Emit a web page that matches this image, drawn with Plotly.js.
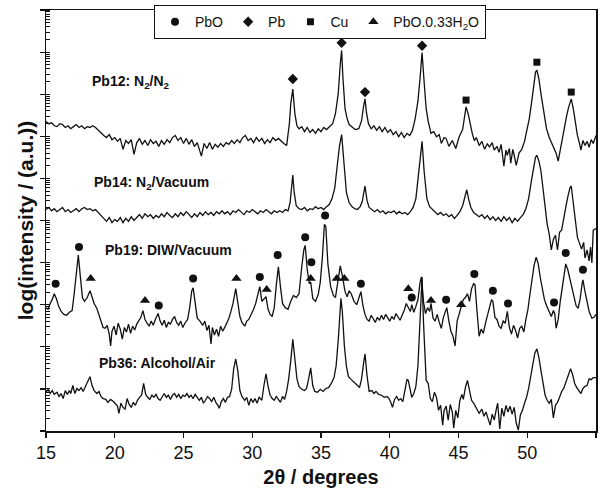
<!DOCTYPE html>
<html>
<head>
<meta charset="utf-8">
<script src="https://cdn.plot.ly/plotly-3.0.1.min.js"></script>
<style>html,body{margin:0;padding:0;background:#fff;}#chart{width:606px;height:493px;}</style>
</head>
<body>
<div id="chart"></div>
<script>
// ---- data: [2theta (deg), log(intensity) (a.u.)] ----
const pb12 = [[15.0,7.35],[15.2,7.30],[15.4,7.32],[15.6,7.25],[15.8,7.23],[16.0,7.30],[16.2,7.28],[16.4,7.21],[16.6,7.25],[16.8,7.18],
[17.0,7.23],[17.2,7.28],[17.4,7.21],[17.6,7.25],[17.8,7.18],[18.0,7.23],[18.2,7.21],[18.4,7.25],[18.6,7.21],[18.8,7.14],
[19.0,7.07],[19.2,7.02],[19.4,6.97],[19.6,7.04],[19.8,6.92],[20.0,6.97],[20.2,6.88],[20.4,6.95],[20.6,6.69],[20.8,6.90],
[21.0,6.83],[21.2,6.92],[21.4,6.57],[21.6,6.85],[21.8,6.95],[22.0,6.81],[22.2,6.90],[22.4,6.78],[22.6,6.92],[22.8,6.83],
[23.0,6.88],[23.2,6.76],[23.4,6.90],[23.6,6.81],[23.8,6.92],[24.0,6.85],[24.2,6.97],[24.4,7.02],[24.6,6.90],[24.8,6.97],
[25.0,6.83],[25.2,6.95],[25.4,6.81],[25.6,6.92],[25.8,6.76],[26.0,6.85],[26.3,6.53],[26.5,6.83],[26.7,6.71],[26.9,6.85],
[27.1,6.69],[27.3,6.81],[27.5,6.74],[27.7,6.83],[27.9,6.76],[28.1,6.85],[28.3,6.81],[28.5,6.90],[28.7,6.83],[28.9,6.92],
[29.1,6.85],[29.3,6.97],[29.5,7.02],[29.7,6.90],[29.9,6.95],[30.1,6.85],[30.3,6.97],[30.5,6.88],[30.7,6.95],[30.9,6.83],
[31.1,6.92],[31.3,6.85],[31.5,6.97],[31.7,6.90],[31.9,6.95],[32.1,6.88],[32.3,6.83],[32.5,6.78],[32.7,7.30],[32.8,7.77],
[32.95,8.12],[33.1,7.54],[33.25,7.25],[33.4,7.18],[33.6,7.23],[33.8,7.11],[34.0,7.21],[34.2,7.09],[34.4,7.16],[34.6,7.07],
[34.8,7.18],[35.0,7.11],[35.2,7.21],[35.4,7.16],[35.6,7.23],[35.85,7.30],[36.05,7.54],[36.25,8.00],[36.4,8.71],[36.5,9.04],
[36.6,8.36],[36.75,7.65],[36.9,7.42],[37.05,7.28],[37.3,7.21],[37.5,7.16],[37.75,7.18],[37.95,7.37],[38.1,7.72],[38.2,7.89],
[38.3,7.58],[38.45,7.30],[38.65,7.18],[38.85,7.25],[39.05,7.14],[39.25,7.23],[39.45,7.11],[39.65,7.21],[39.85,7.09],[40.05,7.16],
[40.25,7.04],[40.45,7.11],[40.65,6.99],[40.85,7.09],[41.05,6.97],[41.25,7.07],[41.45,7.02],[41.65,7.14],[41.85,7.42],[42.05,7.84],
[42.2,8.36],[42.35,8.99],[42.5,8.29],[42.65,7.65],[42.8,7.35],[43.0,7.07],[43.2,7.11],[43.4,6.99],[43.6,7.04],[43.75,6.83],
[43.95,6.97],[44.1,6.95],[44.3,6.76],[44.55,6.90],[44.8,6.71],[45.05,6.99],[45.3,7.16],[45.45,7.49],[45.55,7.70],[45.7,7.54],
[45.85,7.28],[46.0,7.07],[46.15,6.90],[46.3,6.97],[46.5,6.78],[46.7,6.88],[46.9,6.69],[47.1,6.83],[47.25,6.74],[47.45,6.85],
[47.6,6.67],[47.8,6.76],[47.95,6.62],[48.1,6.81],[48.3,6.29],[48.45,6.67],[48.55,6.55],[48.7,6.71],[48.8,6.36],[48.95,6.69],
[49.05,6.55],[49.2,6.31],[49.4,6.60],[49.6,6.69],[49.8,6.88],[50.0,7.16],[50.15,7.42],[50.3,7.77],[50.45,8.12],[50.6,8.52],
[50.7,8.57],[50.85,8.36],[51.0,8.00],[51.2,7.54],[51.4,7.18],[51.6,6.97],[51.8,6.83],[51.95,6.71],[52.1,6.60],[52.25,6.41],
[52.4,6.69],[52.55,6.92],[52.7,7.18],[52.85,7.46],[53.0,7.68],[53.2,7.89],[53.35,7.65],[53.5,7.30],[53.65,7.02],[53.8,6.83],
[53.9,6.67],[54.05,6.90],[54.2,6.78],[54.35,6.88],[54.5,6.74],[54.65,6.92],[54.8,6.83],[55.0,7.02]];

const pb14 = [[15.0,5.26],[15.2,5.31],[15.4,5.23],[15.6,5.28],[15.8,5.21],[16.0,5.26],[16.2,5.31],[16.4,5.21],[16.6,5.26],[16.8,5.19],
[17.0,5.23],[17.2,5.28],[17.4,5.21],[17.6,5.28],[17.8,5.31],[18.0,5.26],[18.2,5.28],[18.4,5.23],[18.6,5.26],[18.8,5.19],
[19.0,5.12],[19.2,5.05],[19.4,4.98],[19.6,5.07],[19.8,4.95],[20.0,5.02],[20.2,4.98],[20.4,5.07],[20.6,4.95],[20.8,5.05],
[21.0,4.98],[21.2,5.09],[21.4,5.00],[21.6,5.07],[21.8,5.14],[22.0,5.05],[22.2,5.16],[22.4,5.09],[22.6,5.14],[22.8,5.05],
[23.0,5.12],[23.2,5.07],[23.4,5.16],[23.6,5.09],[23.8,5.19],[24.0,5.12],[24.2,5.07],[24.4,5.16],[24.6,5.09],[24.8,5.19],
[25.0,5.12],[25.2,5.21],[25.4,5.14],[25.6,5.07],[25.8,5.16],[26.0,5.09],[26.2,5.19],[26.4,5.12],[26.6,5.21],[26.8,5.14],
[27.0,5.19],[27.2,5.12],[27.4,5.21],[27.6,5.16],[27.8,5.23],[28.0,5.16],[28.2,5.21],[28.4,5.14],[28.6,5.23],[28.8,5.19],
[29.0,5.26],[29.2,5.19],[29.4,5.14],[29.6,5.23],[29.8,5.19],[30.0,5.26],[30.2,5.21],[30.4,5.16],[30.6,5.23],[30.8,5.19],
[31.0,5.26],[31.2,5.21],[31.4,5.16],[31.6,5.23],[31.8,5.19],[32.0,5.23],[32.2,5.19],[32.4,5.26],[32.6,5.23],[32.75,5.42],
[32.85,5.77],[32.95,6.08],[33.05,5.66],[33.2,5.35],[33.4,5.28],[33.6,5.26],[33.8,5.31],[34.0,5.23],[34.2,5.28],[34.4,5.26],
[34.6,5.33],[34.8,5.28],[35.0,5.31],[35.2,5.26],[35.4,5.33],[35.6,5.38],[35.8,5.52],[36.0,5.77],[36.2,6.36],[36.35,6.78],
[36.5,7.04],[36.65,6.36],[36.85,5.66],[37.05,5.42],[37.25,5.33],[37.45,5.28],[37.65,5.26],[37.85,5.33],[38.0,5.45],[38.2,5.82],
[38.35,5.47],[38.5,5.31],[38.7,5.26],[38.9,5.21],[39.1,5.26],[39.3,5.19],[39.5,5.23],[39.7,5.16],[39.9,5.21],[40.1,5.19],
[40.3,5.23],[40.5,5.16],[40.7,5.21],[40.9,5.16],[41.1,5.19],[41.3,5.14],[41.5,5.21],[41.7,5.31],[41.9,5.52],[42.1,6.08],
[42.25,6.60],[42.35,6.88],[42.5,6.17],[42.7,5.52],[42.9,5.33],[43.1,5.26],[43.3,5.19],[43.5,5.14],[43.7,5.19],[43.9,5.12],
[44.1,5.16],[44.3,5.09],[44.5,5.14],[44.7,5.05],[44.9,5.12],[45.1,5.21],[45.3,5.35],[45.45,5.56],[45.6,5.73],[45.75,5.49],
[45.9,5.31],[46.1,5.19],[46.3,5.14],[46.5,5.09],[46.7,5.14],[46.9,5.05],[47.1,5.12],[47.3,5.02],[47.5,5.09],[47.7,5.00],
[47.9,5.07],[48.1,4.98],[48.3,5.09],[48.5,5.00],[48.7,5.07],[48.9,4.95],[49.1,5.05],[49.3,4.98],[49.5,5.07],[49.7,5.14],
[49.9,5.28],[50.1,5.52],[50.3,5.94],[50.45,6.24],[50.6,6.50],[50.7,6.55],[50.85,6.41],[51.0,6.17],[51.15,5.77],[51.3,5.31],
[51.45,4.91],[51.6,4.67],[51.75,4.30],[51.9,4.55],[52.05,4.65],[52.2,4.30],[52.35,4.72],[52.5,4.77],[52.65,5.09],[52.8,5.31],
[52.95,5.56],[53.1,5.77],[53.2,5.82],[53.35,5.47],[53.5,5.00],[53.65,4.60],[53.8,4.44],[53.95,4.32],[54.1,4.48],[54.2,4.11],
[54.35,4.30],[54.5,4.04],[54.6,4.37],[54.7,3.99],[54.8,4.77],[55.0,4.81]];

const pb19 = [[15.0,2.93],[15.15,2.89],[15.3,3.03],[15.45,3.12],[15.6,3.26],[15.75,3.15],[15.9,2.98],[16.1,2.84],[16.3,2.77],[16.5,2.75],
[16.7,2.82],[16.9,2.86],[17.05,3.26],[17.2,3.78],[17.35,4.18],[17.5,3.66],[17.65,3.17],[17.8,3.08],[18.0,3.17],[18.2,3.33],
[18.35,3.19],[18.5,3.03],[18.7,2.91],[18.85,2.77],[19.0,2.58],[19.15,2.46],[19.3,2.44],[19.45,2.51],[19.6,2.30],[19.7,2.02],
[19.8,2.37],[19.95,2.49],[20.1,2.28],[20.25,2.56],[20.4,2.42],[20.55,2.18],[20.7,2.46],[20.85,2.35],[21.0,2.54],[21.15,2.32],
[21.3,2.49],[21.45,2.40],[21.6,2.54],[21.75,2.61],[21.9,2.70],[22.05,2.86],[22.2,2.65],[22.35,2.56],[22.5,2.49],[22.65,2.61],
[22.8,2.51],[22.95,2.65],[23.15,2.79],[23.3,2.61],[23.45,2.51],[23.6,2.63],[23.75,2.46],[23.9,2.58],[24.05,2.54],[24.2,2.65],
[24.35,2.72],[24.5,2.58],[24.65,2.51],[24.8,2.61],[24.95,2.46],[25.1,2.56],[25.3,2.65],[25.45,2.93],[25.6,3.33],[25.7,3.40],
[25.85,2.96],[26.0,2.68],[26.2,2.61],[26.4,2.51],[26.55,2.61],[26.7,2.39],[26.85,2.51],[27.0,2.07],[27.1,2.46],[27.25,2.28],
[27.4,2.42],[27.55,2.25],[27.7,2.49],[27.85,2.37],[28.0,2.46],[28.15,2.56],[28.3,2.68],[28.45,2.84],[28.6,3.03],[28.8,3.38],
[28.95,2.98],[29.1,2.72],[29.25,2.58],[29.45,2.49],[29.6,2.61],[29.75,2.65],[29.95,2.79],[30.1,2.89],[30.25,3.03],[30.4,3.22],
[30.55,3.43],[30.7,3.08],[30.85,3.15],[31.0,3.19],[31.15,2.89],[31.3,2.77],[31.45,2.72],[31.6,2.93],[31.75,3.47],[31.9,3.90],
[32.05,3.43],[32.2,3.03],[32.4,2.93],[32.6,2.89],[32.8,3.08],[33.0,3.22],[33.2,3.17],[33.4,3.26],[33.6,3.90],[33.75,4.30],
[33.85,4.41],[34.0,3.83],[34.15,3.50],[34.25,3.54],[34.4,3.15],[34.6,3.08],[34.8,3.24],[34.95,3.54],[35.1,4.13],[35.25,4.91],
[35.35,4.86],[35.5,3.97],[35.7,3.43],[35.9,3.22],[36.05,3.17],[36.2,3.47],[36.4,3.92],[36.55,3.69],[36.75,3.31],[36.9,3.19],
[37.05,3.33],[37.2,3.26],[37.4,3.08],[37.6,3.00],[37.75,3.15],[37.9,3.31],[38.05,2.98],[38.2,2.77],[38.35,2.65],[38.5,2.61],
[38.65,2.75],[38.8,2.68],[38.95,2.58],[39.1,2.70],[39.25,2.63],[39.4,2.75],[39.55,2.65],[39.7,2.77],[39.85,2.70],[40.0,2.61],
[40.15,2.72],[40.3,2.65],[40.45,2.79],[40.6,2.70],[40.75,2.63],[40.9,2.75],[41.05,2.86],[41.2,3.03],[41.35,2.93],[41.5,2.84],
[41.6,3.00],[41.75,2.82],[41.9,2.96],[42.05,3.12],[42.2,3.52],[42.3,3.66],[42.45,3.08],[42.6,2.79],[42.75,2.93],[42.9,2.84],
[43.0,3.03],[43.15,2.68],[43.3,2.61],[43.45,2.77],[43.6,2.58],[43.75,2.44],[43.9,2.70],[44.05,2.84],[44.15,2.93],[44.3,2.61],
[44.45,2.37],[44.6,2.25],[44.75,2.02],[44.9,2.61],[45.05,2.79],[45.2,2.96],[45.35,3.12],[45.5,3.17],[45.65,3.26],[45.8,3.08],
[45.95,3.38],[46.1,3.50],[46.2,3.47],[46.35,2.84],[46.5,2.25],[46.65,2.42],[46.8,2.32],[47.0,2.61],[47.2,2.84],[47.4,3.12],
[47.5,3.08],[47.65,2.70],[47.8,2.65],[47.95,2.49],[48.1,2.44],[48.25,2.61],[48.4,2.56],[48.55,2.84],[48.7,2.46],[48.85,2.30],
[49.0,2.51],[49.15,2.39],[49.3,2.21],[49.45,2.44],[49.6,2.49],[49.75,2.35],[49.9,2.65],[50.05,2.89],[50.2,3.26],[50.35,3.59],
[50.5,3.94],[50.65,4.13],[50.8,3.97],[50.95,3.64],[51.1,3.38],[51.25,3.12],[51.4,2.98],[51.6,2.84],[51.75,2.72],[51.9,2.86],
[52.0,2.79],[52.1,2.44],[52.25,2.65],[52.4,3.08],[52.55,3.38],[52.7,3.78],[52.8,3.97],[52.95,3.83],[53.1,3.61],[53.25,3.36],
[53.4,3.15],[53.55,2.98],[53.7,2.91],[53.85,3.15],[54.0,3.52],[54.05,3.59],[54.2,3.31],[54.35,3.05],[54.5,2.84],[54.7,2.68],
[54.85,2.70],[55.0,2.77]];

const pb36 = [[15.0,0.92],[15.15,0.99],[15.3,0.89],[15.45,0.96],[15.6,0.87],[15.8,0.92],[15.95,0.82],[16.1,0.89],[16.25,0.77],[16.4,0.96],
[16.55,0.87],[16.7,0.96],[16.8,0.89],[16.95,1.08],[17.1,0.89],[17.25,1.01],[17.4,0.96],[17.55,1.03],[17.7,0.94],[17.85,1.06],
[18.0,1.15],[18.2,1.29],[18.35,1.08],[18.5,0.96],[18.7,0.89],[18.85,0.94],[19.0,0.82],[19.15,0.77],[19.35,0.75],[19.5,0.68],
[19.7,0.75],[19.9,0.70],[20.05,0.63],[20.2,0.59],[20.3,0.42],[20.45,0.66],[20.6,0.56],[20.75,0.52],[20.9,0.77],[21.05,0.63],
[21.2,0.56],[21.35,0.68],[21.5,0.61],[21.65,0.73],[21.8,0.80],[21.95,0.85],[22.1,1.13],[22.25,0.87],[22.4,0.80],[22.55,0.75],
[22.7,0.85],[22.85,0.80],[23.0,0.87],[23.15,0.77],[23.3,0.73],[23.45,0.82],[23.6,0.89],[23.75,0.80],[23.9,0.85],[24.05,0.75],
[24.2,0.85],[24.35,0.89],[24.5,0.80],[24.65,0.87],[24.8,0.77],[24.95,0.85],[25.1,0.82],[25.25,0.89],[25.4,0.80],[25.55,0.85],
[25.7,0.77],[25.85,0.87],[26.0,0.80],[26.15,0.73],[26.3,0.80],[26.45,0.66],[26.6,0.73],[26.75,0.82],[26.9,0.77],[27.05,0.70],
[27.2,0.80],[27.35,0.68],[27.5,0.61],[27.6,0.54],[27.75,0.70],[27.9,0.77],[28.05,0.68],[28.2,0.80],[28.35,0.82],[28.5,0.99],
[28.65,1.48],[28.8,1.71],[28.95,1.43],[29.1,0.96],[29.25,0.82],[29.45,0.73],[29.6,0.80],[29.75,0.61],[29.9,0.77],[30.05,0.68],
[30.2,0.77],[30.35,0.66],[30.5,0.80],[30.7,0.73],[30.85,1.08],[31.0,1.36],[31.15,1.06],[31.3,0.85],[31.45,0.77],[31.6,0.73],
[31.75,0.82],[31.9,0.75],[32.05,0.68],[32.2,0.82],[32.35,0.75],[32.5,0.94],[32.65,1.24],[32.8,1.67],[32.95,2.18],[33.1,1.71],
[33.25,1.24],[33.4,1.06],[33.6,0.99],[33.8,0.96],[33.95,1.01],[34.1,1.24],[34.25,1.50],[34.4,1.08],[34.55,0.94],[34.75,0.92],
[34.95,0.99],[35.15,0.94],[35.35,1.01],[35.55,1.03],[35.75,1.13],[35.95,1.27],[36.1,1.55],[36.25,2.14],[36.35,2.61],[36.45,3.15],
[36.55,2.84],[36.7,2.02],[36.85,1.53],[37.0,1.29],[37.2,1.22],[37.4,1.17],[37.6,1.10],[37.8,1.03],[37.95,1.24],[38.1,1.62],
[38.2,1.83],[38.35,1.31],[38.5,0.94],[38.7,0.96],[38.85,0.89],[39.0,0.94],[39.2,0.87],[39.4,0.85],[39.6,0.80],[39.8,0.82],
[39.95,0.77],[40.1,0.66],[40.2,0.56],[40.35,0.75],[40.5,0.82],[40.65,0.73],[40.8,0.77],[40.95,0.70],[41.1,0.92],[41.25,1.22],
[41.35,1.20],[41.45,1.03],[41.6,0.80],[41.75,0.89],[41.9,1.06],[42.05,1.55],[42.2,2.61],[42.35,3.66],[42.45,2.61],[42.55,1.67],
[42.65,1.20],[42.8,1.13],[42.95,0.77],[43.1,0.70],[43.25,0.92],[43.4,0.80],[43.55,0.49],[43.7,0.61],[43.85,0.14],[43.95,0.49],
[44.1,0.59],[44.25,0.26],[44.4,0.63],[44.55,0.45],[44.65,0.07],[44.8,0.49],[44.95,0.31],[45.1,0.73],[45.25,0.87],[45.35,0.75],
[45.5,1.03],[45.65,1.20],[45.8,0.96],[45.95,0.73],[46.1,0.66],[46.3,0.52],[46.5,0.42],[46.7,0.52],[46.85,0.35],[47.0,0.45],
[47.15,0.26],[47.3,0.14],[47.45,0.40],[47.6,0.26],[47.75,0.52],[47.85,0.66],[48.0,0.05],[48.15,0.54],[48.3,0.35],[48.45,0.61],
[48.6,0.45],[48.75,0.59],[48.9,0.40],[49.05,0.56],[49.2,0.19],[49.35,0.02],[49.5,0.38],[49.65,0.49],[49.8,0.66],[49.95,0.80],
[50.1,1.01],[50.25,1.31],[50.4,1.62],[50.55,1.85],[50.7,1.95],[50.85,1.74],[51.0,1.43],[51.15,1.13],[51.3,0.85],[51.45,0.73],
[51.6,0.66],[51.75,0.75],[51.9,0.31],[52.05,0.61],[52.2,0.68],[52.35,0.80],[52.5,0.94],[52.65,1.01],[52.8,1.15],[52.95,1.31],
[53.15,1.48],[53.3,1.34],[53.45,1.13],[53.6,1.03],[53.75,0.96],[53.9,0.89],[54.05,1.01],[54.2,1.06],[54.35,1.08],[54.5,1.24],
[54.65,1.22],[54.8,1.27],[55.0,1.27]];

// phase markers [2theta, log(intensity)]
const markPbO = [[15.7,3.50],[17.4,4.37],[23.2,2.98],[25.7,3.62],[30.55,3.66],[31.85,4.18],[33.85,4.60],[34.3,4.01],[35.3,5.12],
[37.9,3.50],[41.6,3.17],[44.1,3.12],[46.15,3.73],[47.5,3.33],[48.6,3.03],[51.95,3.05],[52.8,4.23],[54.05,3.83]];
const markPb = [[32.95,8.36],[36.5,9.22],[38.2,8.05],[42.35,9.15]];
const markCu = [[45.55,7.86],[50.7,8.76],[53.2,8.05]];
const markHyd = [[18.25,3.62],[22.2,3.10],[28.85,3.62],[31.05,3.36],[34.25,3.62],[36.15,3.62],[36.7,3.62],[41.35,3.38],[43.0,3.10],[45.2,3.00]];

const sampleLabels = ['Pb12: N<sub>2</sub>/N<sub>2</sub>', 'Pb14: N<sub>2</sub>/Vacuum', 'Pb19: DIW/Vacuum', 'Pb36: Alcohol/Air'];
const labelX = [18.2, 18.35, 19.15, 18.7];
const labelY = [8.29, 5.89, 4.30, 1.62];
const phaseNames = ['PbO', 'Pb', 'Cu', 'PbO.0.33H<sub>2</sub>O'];
const xTickVals = [15, 20, 25, 30, 35, 40, 45, 50, 55];
const decades = [0,1,2,3,4,5,6,7,8,9,10];

// ---- build ----
const INK = '#111';
const col = (arr, i) => arr.map(p => p[i]);
const lineTrace = d => ({x: col(d,0), y: col(d,1), mode: 'lines', type: 'scatter',
  line: {color: INK, width: 1.3}, showlegend: false, hoverinfo: 'skip'});
const markTrace = (d, name, symbol, size) => ({x: col(d,0), y: col(d,1), mode: 'markers', type: 'scatter',
  name: name, marker: {symbol: symbol, size: size, color: INK, line: {width: 0}}});

const data = [
  lineTrace(pb12), lineTrace(pb14), lineTrace(pb19), lineTrace(pb36),
  markTrace(markPbO, phaseNames[0], 'circle', 8),
  markTrace(markPb, phaseNames[1], 'diamond', 8),
  markTrace(markCu, phaseNames[2], 'square', 7),
  markTrace(markHyd, phaseNames[3], 'triangle-up', 9)
];

const minorVals = [];
decades.forEach(d => { minorVals.push(d); if (d < 10) for (let k = 2; k <= 9; k++) minorVals.push(d + Math.log10(k)); });

const annotations = sampleLabels.map((t, i) => ({
  x: labelX[i], y: labelY[i], xref: 'x', yref: 'y', text: '<b>' + t + '</b>', showarrow: false,
  xanchor: 'left', yanchor: 'middle', font: {size: 14, color: INK}
}));

const layout = {
  width: 606, height: 493,
  margin: {l: 46, r: 10, t: 5, b: 62},
  paper_bgcolor: '#fff', plot_bgcolor: '#fff',
  font: {family: 'Liberation Sans, Arial, sans-serif', color: INK, size: 15},
  showlegend: true,
  legend: {orientation: 'h', x: 0.196, xanchor: 'left', y: 1.012, yanchor: 'top',
    bordercolor: INK, borderwidth: 1.2, bgcolor: '#fff', font: {size: 14, color: INK}},
  xaxis: {range: [15, 55], tickmode: 'array', tickvals: xTickVals, ticks: 'outside', ticklen: 5, tickwidth: 1.3,
    tickcolor: INK, showline: true, linecolor: INK, linewidth: 1.5, mirror: true, showgrid: false, zeroline: false,
    tickfont: {size: 18}, automargin: false,
    title: {text: '<b>2θ / degrees</b>', font: {size: 20}, standoff: 8}},
  yaxis: {range: [0, 10], tickmode: 'array', tickvals: decades, ticks: 'outside', ticklen: 5, tickwidth: 1.2,
    tickcolor: INK, showticklabels: false, showline: true, linecolor: INK, linewidth: 1.5, mirror: true,
    showgrid: false, zeroline: false, automargin: false,
    minor: {tickmode: 'array', tickvals: minorVals, ticks: 'inside', ticklen: 4, tickwidth: 1, tickcolor: INK, showgrid: false},
    title: {text: '<b>log(intensity / (a.u.))</b>', font: {size: 21}, standoff: 0}},
  annotations: annotations
};

Plotly.newPlot('chart', data, layout, {displayModeBar: false, staticPlot: true});
</script>
</body>
</html>
